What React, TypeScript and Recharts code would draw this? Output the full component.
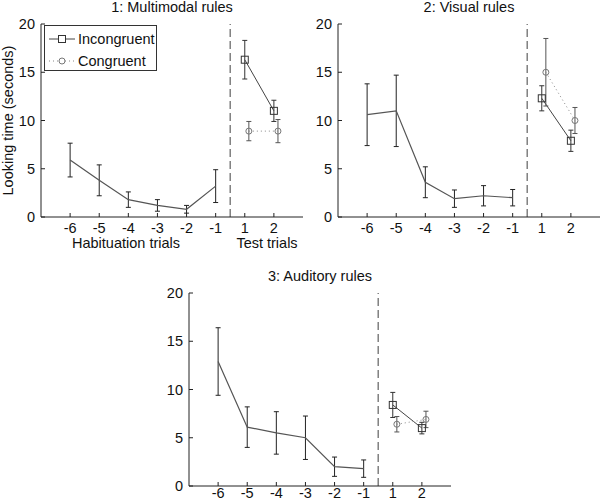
import React from 'react';
import { LineChart, Line, XAxis, YAxis, ErrorBar, ReferenceLine, Legend } from 'recharts';

const FONT = '"Liberation Sans", Arial, Helvetica, sans-serif';

// trial labels
const habituationTrials = [-6, -5, -4, -3, -2, -1];
const testTrials = [1, 2];
const yTicks = [0, 5, 10, 15, 20];
const seriesNames = ['Incongruent', 'Congruent'];

// 1: Multimodal rules
const multiHab = [5.9, 3.8, 1.8, 1.2, 0.8, 3.2];
const multiHabErr = [1.75, 1.6, 0.8, 0.6, 0.4, 1.7];
const multiInc = [16.3, 11.0];
const multiIncErr = [2.0, 1.1];
const multiCon = [8.9, 8.9];
const multiConErr = [1.0, 1.2];

// 2: Visual rules
const visualHab = [10.6, 11.0, 3.6, 1.9, 2.2, 2.0];
const visualHabErr = [3.2, 3.7, 1.6, 0.9, 1.05, 0.85];
const visualInc = [12.3, 7.9];
const visualIncErr = [1.3, 1.1];
const visualCon = [15.0, 10.0];
const visualConErr = [3.5, 1.35];

// 3: Auditory rules
const audHab = [12.9, 6.1, 5.5, 5.0, 2.0, 1.8];
const audHabErr = [3.5, 2.1, 2.2, 2.25, 1.0, 0.9];
const audInc = [8.4, 6.0];
const audIncErr = [1.3, 0.6];
const audCon = [6.4, 6.9];
const audConErr = [0.8, 0.85];

// test trial 1 sits one step after the last habituation trial
const testPos = (t: number) => t - 1;
const congruentShift = 0.14;
const dividerPos = -0.5;
const xTicks = [...habituationTrials, ...testTrials.map(testPos)];
const xLabel = (v: number) => (v >= 0 ? String(v + 1) : String(v));

const SquareDot = (props: any) => {
  const { cx, cy, index } = props;
  if (cx == null || cy == null) return <g key={index} />;
  return (
    <rect key={index} x={cx - 3.5} y={cy - 3.5} width={7} height={7} fill="none" stroke="#333" strokeWidth={1} />
  );
};

const renderLegend = (props: any) => {
  const items = (props.payload || [])
    .filter((p: any) => seriesNames.includes(p.value))
    .sort((a: any, b: any) => seriesNames.indexOf(a.value) - seriesNames.indexOf(b.value));
  return (
    <div style={{ boxSizing: 'border-box', width: 113, height: 46, border: '1px solid #333', background: '#fff', paddingTop: 2, fontFamily: FONT }}>
      {items.map((p: any) => (
        <div key={p.value} style={{ display: 'flex', alignItems: 'center', height: 22 }}>
          <svg width={32} height={22}>
            {p.value === seriesNames[0] ? (
              <>
                <line x1={4} y1={11} x2={30} y2={11} stroke="#444" strokeWidth={1} />
                <rect x={13.5} y={7.5} width={7} height={7} fill="#fff" stroke="#333" />
              </>
            ) : (
              <>
                <line x1={4} y1={11} x2={30} y2={11} stroke="#888" strokeWidth={1} strokeDasharray="1 3" />
                <circle cx={17} cy={11} r={3} fill="#fff" stroke="#777" />
              </>
            )}
          </svg>
          <span style={{ fontSize: 14.5, color: '#111', marginLeft: 1 }}>{p.value}</span>
        </div>
      ))}
    </div>
  );
};

type PanelProps = {
  title: string;
  hab: number[];
  habErr: number[];
  inc: number[];
  incErr: number[];
  con: number[];
  conErr: number[];
  left: number;
  top: number;
  width: number;
  height: number;
  marginTop: number;
  marginRight: number;
  yAxisWidth: number;
  xAxisHeight: number;
  xTickMargin: number;
  legend?: boolean;
  yLabel?: boolean;
};

function Panel(p: PanelProps) {
  const habRows = habituationTrials.map((t, i) => ({ x: t, y: p.hab[i], err: p.habErr[i] }));
  const incRows = testTrials.map((t, i) => ({ x: testPos(t), y: p.inc[i], err: p.incErr[i] }));
  const conRows = testTrials.map((t, i) => ({ x: testPos(t) + congruentShift, y: p.con[i], err: p.conErr[i] }));
  const tick = { fill: '#111', fontSize: 14.5, fontFamily: FONT };
  const plotLeft = p.yAxisWidth;
  const plotRight = p.width - p.marginRight;
  return (
    <div style={{ position: 'absolute', left: p.left, top: p.top, width: p.width, height: p.height }}>
      <div
        style={{
          position: 'absolute',
          left: (plotLeft + plotRight) / 2,
          top: p.marginTop - 25,
          transform: 'translateX(-50%)',
          whiteSpace: 'nowrap',
          fontSize: 14.5,
          color: '#111',
          fontFamily: FONT,
        }}
      >
        {p.title}
      </div>
      <LineChart
        width={p.width}
        height={p.height}
        margin={{ top: p.marginTop, right: p.marginRight, bottom: 0, left: 0 }}
      >
        <XAxis
          type="number"
          dataKey="x"
          domain={[-7, 2]}
          ticks={xTicks}
          interval={0}
          tickFormatter={xLabel}
          height={p.xAxisHeight}
          tickSize={-4}
          tickMargin={p.xTickMargin}
          stroke="#222"
          tick={tick}
        />
        <YAxis
          type="number"
          domain={[0, 20]}
          ticks={yTicks}
          interval={0}
          width={p.yAxisWidth}
          tickSize={-4}
          tickMargin={10}
          stroke="#222"
          tick={tick}
          label={
            p.yLabel
              ? {
                  value: 'Looking time (seconds)',
                  angle: -90,
                  position: 'insideLeft',
                  offset: 8,
                  style: { textAnchor: 'middle', fontSize: 14.5, fill: '#111', fontFamily: FONT },
                }
              : undefined
          }
        />
        <ReferenceLine x={dividerPos} stroke="#808080" strokeWidth={1.5} strokeDasharray="8 4" />
        <Line
          data={habRows}
          dataKey="y"
          stroke="#555"
          strokeWidth={1.2}
          dot={false}
          legendType="none"
          isAnimationActive={false}
        >
          <ErrorBar dataKey="err" direction="y" width={2.5} stroke="#222" strokeWidth={1} />
        </Line>
        <Line
          name={seriesNames[0]}
          data={incRows}
          dataKey="y"
          stroke="#444"
          strokeWidth={1}
          dot={SquareDot}
          isAnimationActive={false}
        >
          <ErrorBar dataKey="err" direction="y" width={2.5} stroke="#333" strokeWidth={1} />
        </Line>
        <Line
          name={seriesNames[1]}
          data={conRows}
          dataKey="y"
          stroke="#888"
          strokeWidth={1}
          strokeDasharray="1 3"
          dot={{ r: 3, fill: 'none', stroke: '#777', strokeWidth: 1, strokeDasharray: '' }}
          isAnimationActive={false}
        >
          <ErrorBar dataKey="err" direction="y" width={2.5} stroke="#555" strokeWidth={1} />
        </Line>
        {p.legend && (
          <Legend
            layout="horizontal"
            verticalAlign="middle"
            align="center"
            content={renderLegend}
            wrapperStyle={{ left: 44, top: 25, width: 113, height: 46 }}
          />
        )}
      </LineChart>
    </div>
  );
}

export default function App() {
  return (
    <div
      style={{
        position: 'absolute',
        left: 0,
        top: 0,
        width: 602,
        height: 502,
        overflow: 'hidden',
        background: '#fff',
        fontFamily: FONT,
      }}
    >
      <Panel
        title="1: Multimodal rules"
        hab={multiHab}
        habErr={multiHabErr}
        inc={multiInc}
        incErr={multiIncErr}
        con={multiCon}
        conErr={multiConErr}
        left={0}
        top={0}
        width={310}
        height={250}
        marginTop={24}
        marginRight={7}
        yAxisWidth={41}
        xAxisHeight={33}
        xTickMargin={10}
        legend
        yLabel
      />
      <div style={{ position: 'absolute', left: 126, top: 235, transform: 'translateX(-50%)', whiteSpace: 'nowrap', fontSize: 14.5, color: '#111' }}>
        Habituation trials
      </div>
      <div style={{ position: 'absolute', left: 267, top: 235, transform: 'translateX(-50%)', whiteSpace: 'nowrap', fontSize: 14.5, color: '#111' }}>
        Test trials
      </div>
      <Panel
        title="2: Visual rules"
        hab={visualHab}
        habErr={visualHabErr}
        inc={visualInc}
        incErr={visualIncErr}
        con={visualCon}
        conErr={visualConErr}
        left={300}
        top={0}
        width={302}
        height={250}
        marginTop={24}
        marginRight={2}
        yAxisWidth={38}
        xAxisHeight={33}
        xTickMargin={10}
      />
      <Panel
        title="3: Auditory rules"
        hab={audHab}
        habErr={audHabErr}
        inc={audInc}
        incErr={audIncErr}
        con={audCon}
        conErr={audConErr}
        left={150}
        top={250}
        width={310}
        height={252}
        marginTop={43}
        marginRight={9}
        yAxisWidth={39}
        xAxisHeight={16}
        xTickMargin={6}
      />
    </div>
  );
}
